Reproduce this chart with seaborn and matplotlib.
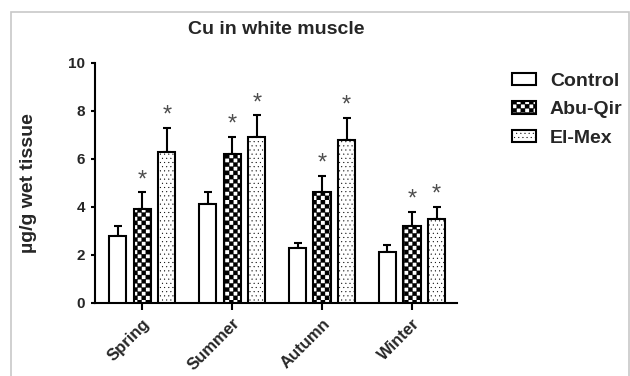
import numpy as np
import pandas as pd
import matplotlib
matplotlib.use("Agg")
import matplotlib.pyplot as plt
import matplotlib.hatch as mhatch
import matplotlib.transforms as mtransforms
from matplotlib.path import Path
from matplotlib.patches import Patch, Rectangle
import seaborn as sns

# ---------------- data ----------------
seasons = ["Spring", "Summer", "Autumn", "Winter"]
sites = ["Control", "Abu-Qir", "El-Mex"]
control = [2.8, 4.1, 2.3, 2.1]
abu_qir = [3.9, 6.2, 4.6, 3.2]
el_mex = [6.3, 6.9, 6.8, 3.5]
control_err = [0.4, 0.5, 0.2, 0.3]
abu_qir_err = [0.7, 0.7, 0.7, 0.6]
el_mex_err = [1.0, 0.9, 0.9, 0.5]
control_sig = [False, False, False, False]
abu_qir_sig = [True, True, True, True]
el_mex_sig = [True, True, True, True]
y_ticks = [0, 2, 4, 6, 8, 10]


# ---------------- checkerboard hatch ----------------
class CheckerHatch(mhatch.HatchPatternBase):
    def __init__(self, hatch, density):
        n = int(hatch.count("c") * density)
        n += n % 2
        self.n = n
        self.num_vertices = (n * n // 2) * 5

    def set_vertices_and_codes(self, vertices, codes):
        n = self.n
        s = 1.0 / n
        k = 0
        for i in range(n):
            for j in range(n):
                if (i + j) % 2 == 0:
                    x0, y0 = i * s, j * s
                    vertices[k:k + 5] = [(x0, y0), (x0 + s, y0), (x0 + s, y0 + s),
                                         (x0, y0 + s), (x0, y0)]
                    codes[k] = Path.MOVETO
                    codes[k + 1:k + 4] = Path.LINETO
                    codes[k + 4] = Path.CLOSEPOLY
                    k += 5


mhatch._hatch_types.append(CheckerHatch)
mhatch._validate_hatch_pattern = lambda hatch: None

sns.set_style("ticks")
plt.rcParams["font.family"] = ["Liberation Sans", "DejaVu Sans"]
plt.rcParams["hatch.linewidth"] = 0.25

df = pd.DataFrame({
    "Season": seasons * 3,
    "Site": [s for s in sites for _ in seasons],
    "Value": control + abu_qir + el_mex,
})

fig = plt.figure(figsize=(6.3, 3.76), dpi=100)
ax = fig.add_axes([95 / 630, 1 - 302.7 / 376, 362 / 630, 240 / 376])

sns.barplot(data=df, x="Season", y="Value", hue="Site", order=seasons,
            hue_order=sites, palette={s: "white" for s in sites},
            edgecolor="black", linewidth=1.5, width=0.82, gap=0.3,
            errorbar=None, legend=False, saturation=1, ax=ax, zorder=3)

hatches = ["", "cccc", "...."]
errs = [control_err, abu_qir_err, el_mex_err]
sigs = [control_sig, abu_qir_sig, el_mex_sig]

for cont, h, e_list, s_list in zip(ax.containers, hatches, errs, sigs):
    for bar, e, s in zip(cont, e_list, s_list):
        bar.set_hatch(h)
        x = bar.get_x() + bar.get_width() / 2
        top = bar.get_height()
        ax.errorbar(x, top, yerr=[[0], [e]], fmt="none", ecolor="black",
                    elinewidth=1.5, capsize=2.6, capthick=1.5, zorder=2)
        if s:
            ax.annotate("*", xy=(x, top + e), xytext=(0, 4.5),
                        textcoords="offset points", ha="center", va="baseline",
                        fontsize=17, color="0.3")

ax.set_xlim(-0.525, 3.5)
ax.set_ylim(0, 10)
ax.set_yticks(y_ticks)
ax.set_yticklabels([str(t) for t in y_ticks], fontsize=11, fontweight="bold")
ax.set_xticks(range(len(seasons)))
ax.set_xticklabels(seasons, fontsize=12, fontweight="bold", rotation=45,
                   ha="right", va="top", rotation_mode="anchor")
offset = mtransforms.ScaledTranslation(1.5 / 72, 0, fig.dpi_scale_trans)
for lbl in ax.get_xticklabels():
    lbl.set_transform(lbl.get_transform() + offset)

ax.tick_params(axis="y", length=3, width=1.5, pad=4, color="black")
ax.tick_params(axis="x", length=5, width=1.5, pad=4.5, color="black")
for side in ["top", "right"]:
    ax.spines[side].set_visible(False)
for side in ["left", "bottom"]:
    ax.spines[side].set_linewidth(1.5)
    ax.spines[side].set_color("black")

ax.set_xlabel("")
ax.set_ylabel("µg/g wet tissue", fontsize=14, fontweight="bold")
ax.yaxis.set_label_coords(-0.16, 0.5)
ax.set_title("Cu in white muscle", fontsize=14, fontweight="bold", pad=20.5)

handles = [Patch(facecolor="white", edgecolor="black", linewidth=1.5, hatch=h)
           for h in hatches]
fig.legend(handles, sites, loc="upper left",
           bbox_to_anchor=(512 / 630, 1 - 73 / 376), frameon=False,
           prop={"size": 14, "weight": "bold"}, handlelength=1.25,
           handleheight=0.6, handletextpad=0.7, labelspacing=0.58,
           borderpad=0, borderaxespad=0)

border = Rectangle((11 / 630, -0.05), (629 - 11) / 630, 1 - 12 / 376 + 0.05,
                   transform=fig.transFigure, fill=False, edgecolor="#c8c8c8",
                   linewidth=1.2, clip_on=False)
fig.add_artist(border)

fig.savefig("out.png", dpi=100)
